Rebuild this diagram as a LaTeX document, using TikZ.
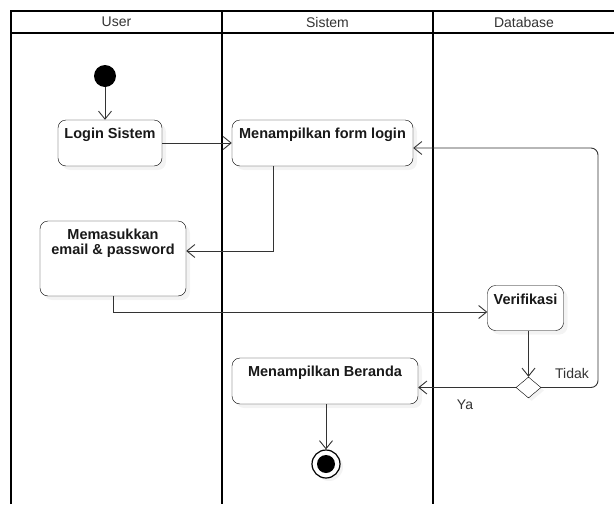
\documentclass[tikz,border=0pt]{standalone}
\usepackage{fontspec}
\setmainfont{Liberation Sans}
\usetikzlibrary{arrows.meta,shapes.geometric,shadows}

\begin{document}
\begin{tikzpicture}[x=1pt,y=-1pt,
  lane/.style={line width=2.6pt},
  head/.style={font=\fontsize{14}{16}\selectfont, text=black!80},
  act/.style={draw, fill=white, rounded corners=8pt, align=center,
    font=\bfseries\fontsize{14.5}{15}\selectfont, text=black!90,
    inner xsep=2pt, inner ysep=8pt, text height=10.5pt,
    drop shadow={shadow xshift=4pt, shadow yshift=-4pt, fill=black!9}},
  flow/.style={draw=black!80, line width=0.9pt, -{Straight Barb[length=8pt,width=13pt]}},
  guard/.style={font=\fontsize{14}{16}\selectfont, text=black!80}]
\useasboundingbox (0,0) rectangle (614,509);

% swimlanes
\draw[lane] (11,504) -- (11,11) -- (614,11);
\draw[line width=1.8pt] (11,33) -- (614,33);
\draw[lane] (222,11) -- (222,504);
\draw[lane] (433,11) -- (433,504);
\node[head] (user) at (116.5,22) {User};
\node[head] (sistem) at (327.5,22) {Sistem};
\node[head] (database) at (524,22) {Database};

% activities
\node[circle, fill=black, minimum size=22pt, inner sep=0pt] (start) at (105,76) {};
\node[act, minimum width=104pt, minimum height=46pt, text depth=19.5pt] (login) at (110,143) {Login Sistem};
\node[act, minimum width=181pt, minimum height=46pt, text depth=19.5pt] (form) at (322.5,143) {Menampilkan form login};
\node[act, minimum width=146pt, minimum height=75pt, text height=25.5pt, text depth=33.5pt] (input) at (113,258.5) {Memasukkan\\email \& password};
\node[act, minimum width=76pt, minimum height=45pt, text depth=18.5pt] (verif) at (525.5,308) {Verifikasi};
\node[diamond, draw, fill=white, minimum width=25pt, minimum height=21pt, inner sep=0pt,
  drop shadow={shadow xshift=3pt, shadow yshift=-3pt, fill=black!9}] (dec) at (528.5,387.5) {};
\node[act, minimum width=186pt, minimum height=46pt, text depth=19.5pt] (home) at (325,381) {Menampilkan Beranda};
\node[circle, draw, fill=white, line width=1.2pt, minimum size=28pt, inner sep=0pt,
  drop shadow={shadow xshift=3pt, shadow yshift=-3pt, fill=black!9}] (end) at (326,464) {};
\fill (end) circle (9pt);

% flows
\coordinate (back) at (598,0);
\draw[flow] (start) -- (start |- login.north);
\draw[flow] (login) -- (form);
\draw[flow] ([xshift=-49.5pt]form.south) |- ([yshift=7.5pt]input.east);
\draw[flow] (input.south) |- ([yshift=-4pt]verif.west);
\draw[flow] (verif.south -| dec.north) -- (dec.north);
\draw[flow, rounded corners=7pt] (dec.east) -| ([yshift=-5pt]form.east -| back) -- ([yshift=-5pt]form.east);
\draw[flow] (dec.west) -- (dec.west -| home.east);
\draw[flow] (home.south -| end.north) -- (end.north);
\node[guard] (tidak) at (572,373) {Tidak};
\node[guard] (ya) at (465,405) {Ya};
\end{tikzpicture}
\end{document}
